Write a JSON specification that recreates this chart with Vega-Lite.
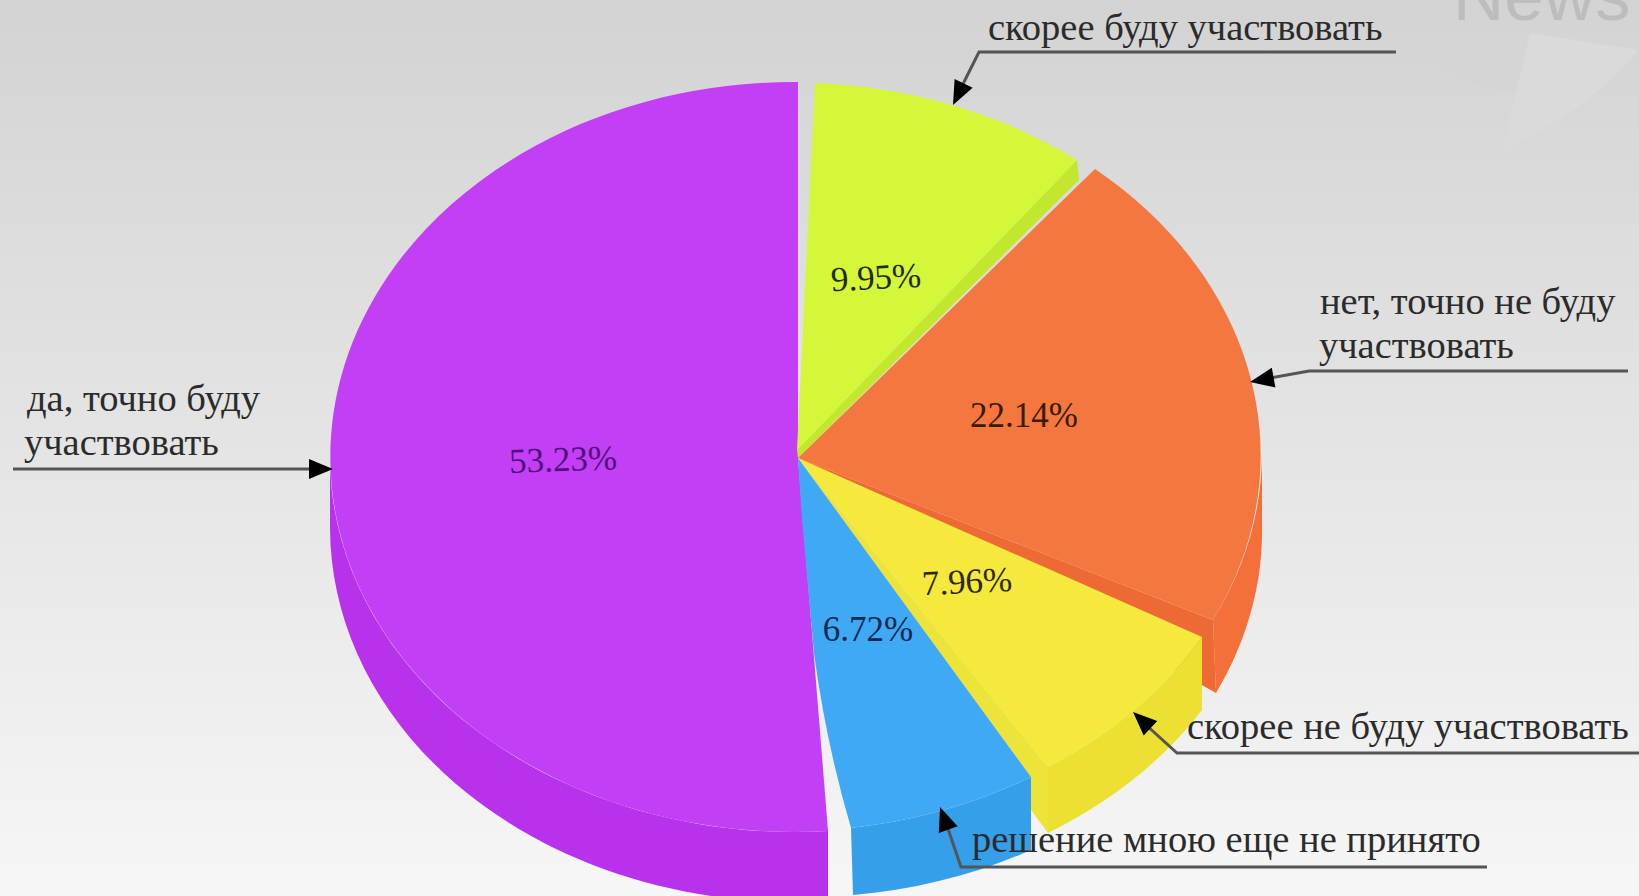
{
  "$schema": "https://vega.github.io/schema/vega-lite/v6.json",
  "description": "Готовность участвовать: объёмная круговая диаграмма с выносками",
  "width": 1639,
  "height": 896,
  "padding": 0,
  "autosize": {"type": "none"},
  "background": "#e4e4e4",
  "config": {
    "view": {"stroke": null},
    "axis": {"disable": true},
    "text": {"font": "Liberation Serif", "fontSize": 38.5, "align": "left", "baseline": "alphabetic", "fill": "#2b2b2b"}
  },
  "datasets": {
    "anchor": [{}],
    "faces": [
      {"answer": "да, точно буду участвовать", "part": "purple side"},
      {"answer": "да, точно буду участвовать", "part": "purple top"},
      {"answer": "скорее буду участвовать", "part": "lime cut"},
      {"answer": "скорее буду участвовать", "part": "lime top"},
      {"answer": "нет, точно не буду участвовать", "part": "orange side"},
      {"answer": "нет, точно не буду участвовать", "part": "orange cut"},
      {"answer": "нет, точно не буду участвовать", "part": "orange top"},
      {"answer": "скорее не буду участвовать", "part": "yellow side"},
      {"answer": "скорее не буду участвовать", "part": "yellow cut"},
      {"answer": "скорее не буду участвовать", "part": "yellow top"},
      {"answer": "решение мною еще не принято", "part": "blue side"},
      {"answer": "решение мною еще не принято", "part": "blue top"}
    ],
    "slices": [
      {"answer": "да, точно буду участвовать", "share": 0.5323},
      {"answer": "скорее буду участвовать", "share": 0.0995},
      {"answer": "нет, точно не буду участвовать", "share": 0.2214},
      {"answer": "скорее не буду участвовать", "share": 0.0796},
      {"answer": "решение мною еще не принято", "share": 0.0672}
    ]
  },
  "resolve": {"scale": {"color": "independent", "shape": "independent"}},
  "layer": [
    {
      "data": {"name": "anchor"},
      "mark": {
        "type": "rect",
        "fill": {"gradient": "linear", "x1": 0, "y1": 0, "x2": 0, "y2": 1, "stops": [{"offset": 0, "color": "#d3d3d3"}, {"offset": 1, "color": "#f6f6f6"}]}
      },
      "encoding": {
        "x": {"datum": 0, "type": "quantitative", "scale": {"domain": [0, 1639], "nice": false}},
        "x2": {"datum": 1639},
        "y": {"datum": 0, "type": "quantitative", "scale": {"domain": [896, 0], "nice": false}},
        "y2": {"datum": 896}
      }
    },
    {
      "data": {"name": "anchor"},
      "mark": {"type": "point", "filled": true, "opacity": 1, "size": 4, "strokeWidth": 0, "fill": "#d5d5d5", "shape": "M1440,67L1528,33L1515,95L1475,85Z"},
      "encoding": {"x": {"datum": 0, "type": "quantitative", "scale": {"domain": [0, 1639], "nice": false}}, "y": {"datum": 0, "type": "quantitative", "scale": {"domain": [896, 0], "nice": false}}}
    },
    {
      "data": {"name": "anchor"},
      "mark": {"type": "point", "filled": true, "opacity": 1, "size": 4, "strokeWidth": 0, "fill": "#dadada", "shape": "M1530,33L1638,50Q1590,110 1503,150Z"},
      "encoding": {"x": {"datum": 0, "type": "quantitative", "scale": {"domain": [0, 1639], "nice": false}}, "y": {"datum": 0, "type": "quantitative", "scale": {"domain": [896, 0], "nice": false}}}
    },
    {
      "data": {"name": "anchor"},
      "mark": {"type": "text", "text": "News", "font": "Liberation Sans", "fontSize": 71, "fill": "#bdbdbd"},
      "encoding": {"x": {"datum": 1453, "type": "quantitative", "scale": {"domain": [0, 1639], "nice": false}}, "y": {"datum": 20, "type": "quantitative", "scale": {"domain": [896, 0], "nice": false}}}
    },
    {
      "data": {"name": "faces"},
      "mark": {"type": "point", "filled": true, "opacity": 1, "size": 4, "strokeWidth": 0},
      "encoding": {
        "x": {"datum": 798, "type": "quantitative", "scale": {"domain": [0, 1639], "nice": false}},
        "y": {"datum": 458, "type": "quantitative", "scale": {"domain": [896, 0], "nice": false}},
        "shape": {
          "field": "part",
          "type": "nominal",
          "legend": null,
          "scale": {
            "domain": ["purple side", "purple top", "lime cut", "lime top", "orange side", "orange cut", "orange top", "yellow side", "yellow cut", "yellow top", "blue side", "blue top"],
            "range": [
              "M-468,0L-468,70A464,375 0 0 0 30,443L30,373A464,375 0 0 1 -468,0Z",
              "M0,0L0,-376A464,375 0 1 0 30,373Z",
              "M-1,-8L279,-298L281,-278L0,0Z",
              "M-1,-8L17,-375A468,375 0 0 1 279,-298Z",
              "M415,162L418,235A468,375 0 0 0 464,66L464,-4A468,375 0 0 1 415,162Z",
              "M0,0L415,162L418,235Z",
              "M0,0L297,-289A468,375 0 0 1 415,162Z",
              "M404,179L404,252A468,375 0 0 1 250,375L250,309A468,375 0 0 0 404,179Z",
              "M0,0L250,309L250,375L233,352L233,319Z",
              "M0,0L404,179A468,375 0 0 1 250,309Z",
              "M53,370L55,437A468,375 0 0 0 233,392L233,319A468,375 0 0 1 53,370Z",
              "M0,0L4,62L16,195Q28,285 53,370A468,375 0 0 0 233,319Z"
            ]
          }
        },
        "color": {
          "field": "part",
          "type": "nominal",
          "legend": null,
          "scale": {
            "domain": ["purple side", "purple top", "lime cut", "lime top", "orange side", "orange cut", "orange top", "yellow side", "yellow cut", "yellow top", "blue side", "blue top"],
            "range": ["#b732ea", "#c23ff5", "#c3e62f", "#d4f73a", "#f3703a", "#ee6a35", "#f4773f", "#ece032", "#ece438", "#f4e93c", "#359fea", "#3fa9f5"]
          }
        }
      }
    },
    {
      "data": {"name": "anchor"},
      "mark": {"type": "point", "filled": false, "opacity": 1, "size": 4, "stroke": "#555555", "strokeWidth": 3, "shape": "M1396,52L979,52L955,100M1628,371L1309,371L1270,378M1639,753L1177,753L1145,724M1487,867L961,867L945,820M13,469L312,469"},
      "encoding": {"x": {"datum": 0, "type": "quantitative", "scale": {"domain": [0, 1639], "nice": false}}, "y": {"datum": 0, "type": "quantitative", "scale": {"domain": [896, 0], "nice": false}}}
    },
    {
      "data": {"name": "anchor"},
      "mark": {"type": "point", "filled": true, "opacity": 1, "size": 4, "strokeWidth": 0, "fill": "#000000", "shape": "M953,105L972.6,87.8L954.6,79ZM1250,382L1275.4,387.4L1271.8,367.8ZM1133,712L1157.3,721L1143.7,735.6ZM940,807L957.6,826.2L938.8,833ZM333,469L309,459L309,479Z"},
      "encoding": {"x": {"datum": 0, "type": "quantitative", "scale": {"domain": [0, 1639], "nice": false}}, "y": {"datum": 0, "type": "quantitative", "scale": {"domain": [896, 0], "nice": false}}}
    },
    {"data": {"name": "anchor"}, "mark": {"type": "text", "text": "скорее буду участвовать"}, "encoding": {"x": {"datum": 988, "type": "quantitative", "scale": {"domain": [0, 1639], "nice": false}}, "y": {"datum": 40, "type": "quantitative", "scale": {"domain": [896, 0], "nice": false}}}},
    {"data": {"name": "anchor"}, "mark": {"type": "text", "text": "нет, точно не буду"}, "encoding": {"x": {"datum": 1320, "type": "quantitative", "scale": {"domain": [0, 1639], "nice": false}}, "y": {"datum": 314, "type": "quantitative", "scale": {"domain": [896, 0], "nice": false}}}},
    {"data": {"name": "anchor"}, "mark": {"type": "text", "text": "участвовать"}, "encoding": {"x": {"datum": 1319, "type": "quantitative", "scale": {"domain": [0, 1639], "nice": false}}, "y": {"datum": 358, "type": "quantitative", "scale": {"domain": [896, 0], "nice": false}}}},
    {"data": {"name": "anchor"}, "mark": {"type": "text", "text": "скорее не буду участвовать"}, "encoding": {"x": {"datum": 1187, "type": "quantitative", "scale": {"domain": [0, 1639], "nice": false}}, "y": {"datum": 739, "type": "quantitative", "scale": {"domain": [896, 0], "nice": false}}}},
    {"data": {"name": "anchor"}, "mark": {"type": "text", "text": "решение мною еще не принято"}, "encoding": {"x": {"datum": 972, "type": "quantitative", "scale": {"domain": [0, 1639], "nice": false}}, "y": {"datum": 852, "type": "quantitative", "scale": {"domain": [896, 0], "nice": false}}}},
    {"data": {"name": "anchor"}, "mark": {"type": "text", "text": "да, точно буду"}, "encoding": {"x": {"datum": 27, "type": "quantitative", "scale": {"domain": [0, 1639], "nice": false}}, "y": {"datum": 411, "type": "quantitative", "scale": {"domain": [896, 0], "nice": false}}}},
    {"data": {"name": "anchor"}, "mark": {"type": "text", "text": "участвовать"}, "encoding": {"x": {"datum": 24, "type": "quantitative", "scale": {"domain": [0, 1639], "nice": false}}, "y": {"datum": 455, "type": "quantitative", "scale": {"domain": [896, 0], "nice": false}}}},
    {
      "data": {"name": "slices"},
      "transform": [{"filter": "datum.answer === 'да, точно буду участвовать'"}],
      "mark": {"type": "text", "align": "center", "baseline": "middle", "fontSize": 35, "angle": 358, "fill": "#53107c"},
      "encoding": {"x": {"datum": 563, "type": "quantitative", "scale": {"domain": [0, 1639], "nice": false}}, "y": {"datum": 460, "type": "quantitative", "scale": {"domain": [896, 0], "nice": false}}, "text": {"field": "share", "type": "quantitative", "format": ".2%"}}
    },
    {
      "data": {"name": "slices"},
      "transform": [{"filter": "datum.answer === 'скорее буду участвовать'"}],
      "mark": {"type": "text", "align": "center", "baseline": "middle", "fontSize": 35, "angle": 357, "fill": "#1f2c00"},
      "encoding": {"x": {"datum": 876, "type": "quantitative", "scale": {"domain": [0, 1639], "nice": false}}, "y": {"datum": 278, "type": "quantitative", "scale": {"domain": [896, 0], "nice": false}}, "text": {"field": "share", "type": "quantitative", "format": ".2%"}}
    },
    {
      "data": {"name": "slices"},
      "transform": [{"filter": "datum.answer === 'нет, точно не буду участвовать'"}],
      "mark": {"type": "text", "align": "center", "baseline": "middle", "fontSize": 35, "angle": 0, "fill": "#3a1b05"},
      "encoding": {"x": {"datum": 1024, "type": "quantitative", "scale": {"domain": [0, 1639], "nice": false}}, "y": {"datum": 416, "type": "quantitative", "scale": {"domain": [896, 0], "nice": false}}, "text": {"field": "share", "type": "quantitative", "format": ".2%"}}
    },
    {
      "data": {"name": "slices"},
      "transform": [{"filter": "datum.answer === 'скорее не буду участвовать'"}],
      "mark": {"type": "text", "align": "center", "baseline": "middle", "fontSize": 35, "angle": 357, "fill": "#2e2a00"},
      "encoding": {"x": {"datum": 967, "type": "quantitative", "scale": {"domain": [0, 1639], "nice": false}}, "y": {"datum": 582, "type": "quantitative", "scale": {"domain": [896, 0], "nice": false}}, "text": {"field": "share", "type": "quantitative", "format": ".2%"}}
    },
    {
      "data": {"name": "slices"},
      "transform": [{"filter": "datum.answer === 'решение мною еще не принято'"}],
      "mark": {"type": "text", "align": "center", "baseline": "middle", "fontSize": 35, "angle": 0, "fill": "#0c2a4e"},
      "encoding": {"x": {"datum": 868, "type": "quantitative", "scale": {"domain": [0, 1639], "nice": false}}, "y": {"datum": 630, "type": "quantitative", "scale": {"domain": [896, 0], "nice": false}}, "text": {"field": "share", "type": "quantitative", "format": ".2%"}}
    }
  ]
}
